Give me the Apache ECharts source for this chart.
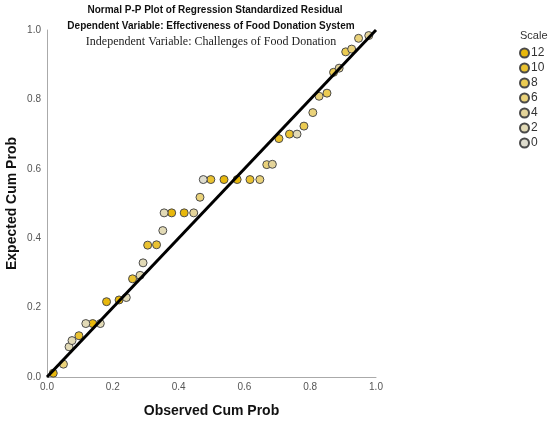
<!DOCTYPE html>
<html>
<head>
<meta charset="utf-8">
<script src="https://cdn.jsdelivr.net/npm/echarts@6/dist/echarts.min.js"></script>
<style>
  html, body { margin: 0; padding: 0; background: #fff; }
  #chart { width: 550px; height: 423px; }
</style>
</head>
<body>
<div id="chart"></div>
<script>
// observed cum prob, expected cum prob, scale level
const observed = [0.019, 0.05, 0.067, 0.076, 0.097, 0.118, 0.139, 0.162, 0.181, 0.219, 0.241,
  0.26, 0.283, 0.292, 0.306, 0.333, 0.352, 0.356, 0.379, 0.417, 0.446, 0.465, 0.475, 0.498,
  0.538, 0.578, 0.617, 0.647, 0.668, 0.685, 0.705, 0.737, 0.76, 0.781, 0.808, 0.827, 0.851,
  0.871, 0.888, 0.908, 0.926, 0.947, 0.978];
const expected = [0.011, 0.037, 0.087, 0.105, 0.119, 0.154, 0.154, 0.154, 0.217, 0.222, 0.229,
  0.283, 0.293, 0.329, 0.38, 0.381, 0.422, 0.473, 0.473, 0.473, 0.473, 0.518, 0.569, 0.569,
  0.569, 0.569, 0.569, 0.569, 0.612, 0.613, 0.687, 0.7, 0.7, 0.723, 0.762, 0.809, 0.818,
  0.878, 0.89, 0.937, 0.945, 0.976, 0.984];
const scale = [12, 6, 2, 2, 10, 2, 12, 2, 12, 12, 2,
  10, 2, 2, 10, 10, 2, 2, 12, 12, 4, 6, 0, 10,
  12, 12, 10, 6, 6, 4, 10, 10, 2, 8, 6, 6, 8,
  8, 4, 8, 6, 6, 4];
const levels = [12, 10, 8, 6, 4, 2, 0];
const levelColors = ['#e8b80c', '#eac230', '#ebcb52', '#ead27a', '#e4d49a', '#e2dab6', '#dedcce'];
const refLine = [[0, 0], [1, 1]];

const chart = echarts.init(document.getElementById('chart'));

// 按 scale 分组，每组一个系列，图例就是 Scale
const scatterSeries = levels.map((lv, i) => ({
  name: String(lv),
  type: 'scatter',
  symbol: 'circle',
  symbolSize: 8,
  itemStyle: { color: levelColors[i], borderColor: '#4a4a4a', borderWidth: 1, opacity: 1 },
  data: observed.map((x, k) => scale[k] === lv ? [x, expected[k]] : null).filter(d => d),
  z: 3
}));

const option = {
  animation: false,
  title: [
    {
      text: 'Normal P-P Plot of Regression Standardized Residual',
      left: 210, top: 0, textAlign: 'center',
      textStyle: { fontFamily: 'Arial', fontSize: 10, fontWeight: 'bold', color: '#111' }
    },
    {
      text: 'Dependent Variable: Effectiveness of Food Donation System',
      left: 206, top: 16, textAlign: 'center',
      textStyle: { fontFamily: 'Arial', fontSize: 10, fontWeight: 'bold', color: '#111' }
    },
    {
      text: 'Independent Variable: Challenges of Food Donation',
      left: 206, top: 31, textAlign: 'center',
      textStyle: { fontFamily: 'Liberation Serif', fontSize: 12, fontWeight: 'normal', color: '#222' }
    },
    {
      text: 'Scale',
      left: 515, top: 25,
      textStyle: { fontFamily: 'Arial', fontSize: 11, fontWeight: 'normal', color: '#333' }
    }
  ],
  legend: {
    orient: 'vertical',
    left: 514, top: 42,
    itemWidth: 9, itemHeight: 9, itemGap: 3,
    icon: 'circle',
    data: levels.map(String),
    textStyle: { fontFamily: 'Arial', fontSize: 12, color: '#333', padding: [0, 0, 0, -3] }
  },
  grid: { left: 47, right: 174, top: 30, bottom: 46, outerBoundsMode: 'none' },
  xAxis: {
    type: 'value', min: 0, max: 1, interval: 0.2,
    name: 'Observed Cum Prob', nameLocation: 'middle', nameGap: 27, nameMoveOverlap: false,
    nameTextStyle: { fontFamily: 'Arial', fontSize: 14, fontWeight: 'bold', color: '#111' },
    axisLine: { show: true, lineStyle: { color: '#aaa' } },
    axisTick: { show: false },
    splitLine: { show: false },
    axisLabel: { fontFamily: 'Arial', fontSize: 10, color: '#555', margin: 5, formatter: v => v.toFixed(1) }
  },
  yAxis: {
    type: 'value', min: 0, max: 1, interval: 0.2,
    name: 'Expected Cum Prob', nameLocation: 'middle', nameGap: 28, nameMoveOverlap: false,
    nameTextStyle: { fontFamily: 'Arial', fontSize: 14, fontWeight: 'bold', color: '#111' },
    axisLine: { show: true, lineStyle: { color: '#aaa' } },
    axisTick: { show: false },
    splitLine: { show: false },
    axisLabel: { fontFamily: 'Arial', fontSize: 10, color: '#555', margin: 6, formatter: v => v.toFixed(1) }
  },
  series: [
    {
      type: 'line',
      data: refLine,
      symbol: 'none',
      lineStyle: { color: '#000', width: 3 },
      z: 4,
      silent: true
    },
    ...scatterSeries
  ]
};

chart.setOption(option);
</script>
</body>
</html>
